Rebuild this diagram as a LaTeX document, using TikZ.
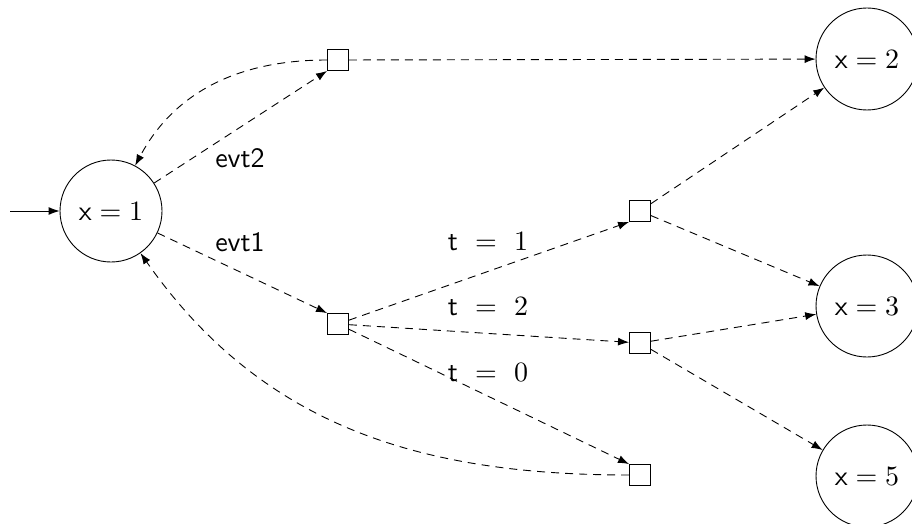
\documentclass[tikz,border=0pt]{standalone}
\usepackage{graphicx}
\usetikzlibrary{arrows.meta}
\newcommand{\bigtxt}[1]{\scalebox{2.8}{#1}}
\begin{document}
\begin{tikzpicture}[x=1pt,y=-1pt,
  state/.style={draw,circle,minimum size=102pt,inner sep=0pt,line width=0.9pt},
  choice/.style={draw,rectangle,minimum size=21pt,inner sep=0pt,line width=0.9pt},
  trans/.style={dash pattern=on 8pt off 6pt,line width=0.9pt,-{Latex[length=11pt,width=8pt]}},
  lbl/.style={inner sep=0pt}]
\useasboundingbox (0,0) rectangle (912,524);
\node[state] (c1) at (111,211) {\bigtxt{$\mathsf{x} = 1$}};
\node[state] (c2) at (867,59) {\bigtxt{$\mathsf{x} = 2$}};
\node[state] (c3) at (867,306) {\bigtxt{$\mathsf{x} = 3$}};
\node[state] (c5) at (867,476) {\bigtxt{$\mathsf{x} = 5$}};
\node[choice] (s1) at (338,60) {};
\node[choice] (s2) at (338,324) {};
\node[choice] (s3) at (640,211) {};
\node[choice] (s4) at (640,343) {};
\node[choice] (s5) at (640,475) {};
\coordinate (start) at (10,211);
\draw[line width=0.9pt,-{Latex[length=11pt,width=8pt]}] (start) -- (c1);
\draw[trans] (c1) -- (s1.south west);
\draw[trans] (s1.west) to[out=180,in=62] (c1);
\draw[trans] (s1) -- (c2);
\draw[trans] (c1) -- (s2.north west);
\draw[trans] (s2) -- (s3.south west);
\draw[trans] (s2) -- (s4);
\draw[trans] (s2) -- (s5.north west);
\draw[trans] (s5.west) to[out=180,in=-55] (c1);
\draw[trans] (s3) -- (c2);
\draw[trans] (s3) -- (c3);
\draw[trans] (s4) -- (c3);
\draw[trans] (s4) -- (c5);
\node[lbl] (l1) at (240,158) {\bigtxt{\textsf{evt2}}};
\node[lbl] (l2) at (240,242) {\bigtxt{\textsf{evt1}}};
\node[lbl] (l3) at (488,241) {\bigtxt{\textsf{t} ${}={}$ 1}};
\node[lbl] (l4) at (488,306) {\bigtxt{\textsf{t} ${}={}$ 2}};
\node[lbl] (l5) at (488,372) {\bigtxt{\textsf{t} ${}={}$ 0}};
\end{tikzpicture}
\end{document}
